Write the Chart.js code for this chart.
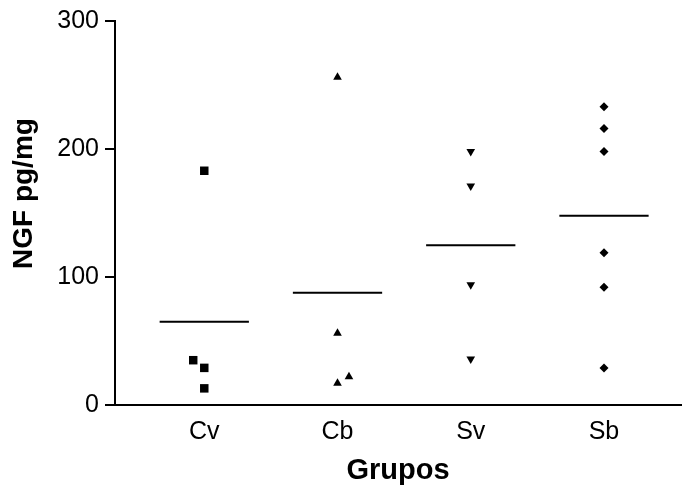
<!DOCTYPE html>
<html>
<head>
<meta charset="utf-8">
<script src="https://cdn.jsdelivr.net/npm/chart.js@4/dist/chart.umd.min.js"></script>
<style>
  body { margin: 0; background: #fff; }
  #wrap { width: 684px; height: 492px; }
</style>
</head>
<body>
<div id="wrap"><canvas id="ngfChart"></canvas></div>
<script>
// datos
const grupos = ["Cv", "Cb", "Sv", "Sb"];
const yTicks = [0, 100, 200, 300];

const cvValores = [183, 35, 29, 13];
const cvDesvio = [0, -0.083, 0, 0];
const cbValores = [256, 56, 22, 17];
const cbDesvio = [0, 0, 0.086, 0];
const svValores = [198, 171, 94, 36];
const svDesvio = [0, 0, 0, 0];
const sbValores = [233, 216, 198, 119, 92, 29];
const sbDesvio = [0, 0, 0, 0, 0, 0];

const FONT = "'Liberation Sans', Arial, Helvetica, sans-serif";

function puntos(valores, desvio, pos) {
    return valores.map((v, i) => ({ x: pos + desvio[i], y: v }));
}

function media(valores) {
    return valores.reduce((a, b) => a + b, 0) / valores.length;
}

function lineaMedia(valores, pos) {
    const m = media(valores);
    return {
        type: "line",
        data: [{ x: pos - 0.335, y: m }, { x: pos + 0.335, y: m }],
        borderColor: "#000",
        borderWidth: 2,
        pointRadius: 0,
        fill: false
    };
}

const series = [
    { valores: cvValores, desvio: cvDesvio, estilo: "rect", radio: 6, rot: 0 },
    { valores: cbValores, desvio: cbDesvio, estilo: "triangle", radio: 5, rot: 0 },
    { valores: svValores, desvio: svDesvio, estilo: "triangle", radio: 5, rot: 180 },
    { valores: sbValores, desvio: sbDesvio, estilo: "rectRot", radio: 4.5, rot: 0 }
];

const datasets = [];
series.forEach((s, i) => {
    datasets.push({
        type: "scatter",
        label: grupos[i],
        data: puntos(s.valores, s.desvio, i + 1),
        pointStyle: s.estilo,
        pointRadius: s.radio,
        pointRotation: s.rot,
        pointBackgroundColor: "#000",
        pointBorderColor: "#000",
        pointBorderWidth: 0
    });
    datasets.push(lineaMedia(s.valores, i + 1));
});

const ctx = document.getElementById("ngfChart").getContext("2d");
new Chart(ctx, {
    type: "scatter",
    data: { datasets: datasets },
    options: {
        responsive: true,
        maintainAspectRatio: false,
        animation: false,
        events: [],
        layout: {
            autoPadding: false,
            padding: { top: 21, right: 3, bottom: 0, left: 0 }
        },
        plugins: {
            legend: { display: false },
            tooltip: { enabled: false }
        },
        scales: {
            x: {
                type: "linear",
                min: 0.33,
                max: 4.578,
                afterFit: (scale) => { scale.height = 87; },
                afterBuildTicks: (scale) => {
                    scale.ticks = grupos.map((g, i) => ({ value: i + 1 }));
                },
                grid: { display: false, drawTicks: false },
                border: { display: true, color: "#000", width: 2 },
                ticks: {
                    padding: 12,
                    color: "#000",
                    font: { family: FONT, size: 25 },
                    callback: (v) => grupos[v - 1] ?? ""
                },
                title: {
                    display: true,
                    text: "Grupos",
                    color: "#000",
                    font: { family: FONT, size: 29, weight: "bold" },
                    padding: { top: 0, bottom: 4 }
                }
            },
            y: {
                min: 0,
                max: 300,
                afterFit: (scale) => { scale.width = 115; },
                afterBuildTicks: (scale) => {
                    scale.ticks = yTicks.map((v) => ({ value: v }));
                },
                grid: {
                    display: true,
                    drawOnChartArea: false,
                    drawTicks: true,
                    tickLength: 10,
                    color: "#000",
                    lineWidth: 2
                },
                border: { display: true, color: "#000", width: 2 },
                ticks: {
                    padding: 6,
                    color: "#000",
                    font: { family: FONT, size: 25 }
                },
                title: {
                    display: true,
                    // espacios al inicio para subir el titulo como en el original
                    text: "     NGF pg/mg",
                    color: "#000",
                    font: { family: FONT, size: 28, weight: "bold" },
                    padding: { top: 7, bottom: 0 }
                }
            }
        }
    }
});
</script>
</body>
</html>
